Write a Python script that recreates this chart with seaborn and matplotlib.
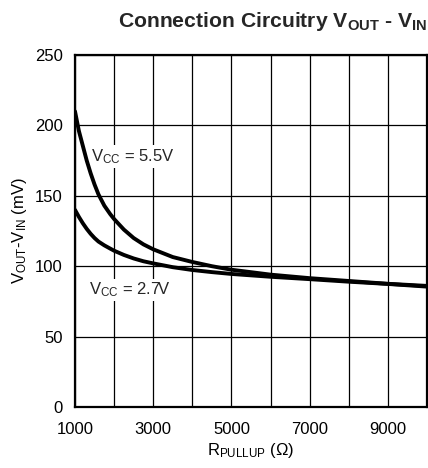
import matplotlib
matplotlib.use("Agg")
import matplotlib.pyplot as plt
import seaborn as sns
import pandas as pd

# ---- data ----
r_pullup = [1000, 1050, 1100, 1200, 1300, 1400, 1500, 1600, 1750, 1900, 2000,
            2250, 2500, 2750, 3000, 3500, 4000, 4500, 5000, 6000, 7000, 8000,
            9000, 10000]
vcc_55 = [210, 203, 196, 185.5, 175, 166, 158, 151, 143, 137, 133.5,
          126, 120, 115.5, 112, 106.5, 103, 100, 97.5, 94, 91.5, 89.5,
          87.5, 86]
vcc_27 = [140, 137.5, 135, 130.5, 126.5, 123, 120, 117.5, 114.8, 112.5, 111,
          108, 105.5, 103.5, 102, 99.3, 97.3, 95.8, 94.5, 92.5, 90.8, 89,
          87.4, 85.5]
series_names = ["5.5V", "2.7V"]
x_ticks = [1000, 2000, 3000, 4000, 5000, 6000, 7000, 8000, 9000, 10000]
x_tick_labels = ["1000", "", "3000", "", "5000", "", "7000", "", "9000", ""]
y_ticks = [0, 50, 100, 150, 200, 250]

df = pd.concat([
    pd.DataFrame({"R": r_pullup, "V": vcc_55, "Vcc": series_names[0]}),
    pd.DataFrame({"R": r_pullup, "V": vcc_27, "Vcc": series_names[1]}),
])

sns.set_theme(style="white")
plt.rcParams["font.family"] = ["Liberation Sans", "DejaVu Sans"]
plt.rcParams["mathtext.fontset"] = "custom"
plt.rcParams["mathtext.rm"] = "Liberation Sans"
plt.rcParams["mathtext.it"] = "Liberation Sans"
plt.rcParams["mathtext.bf"] = "Liberation Sans:bold"

fig = plt.figure(figsize=(4.28, 4.68), dpi=100)
ax = fig.add_axes([75 / 428, 61 / 468, 352 / 428, 352 / 468])

sns.lineplot(data=df, x="R", y="V", hue="Vcc", palette=["black", "black"],
             legend=False, ax=ax, linewidth=2.8, estimator=None, sort=False,
             zorder=3)

ax.set_xlim(1000, 10000)
ax.set_ylim(0, 250)
ax.set_xticks(x_ticks)
ax.set_xticklabels(x_tick_labels)
ax.set_yticks(y_ticks)
ax.grid(True, color="black", linewidth=0.9)
ax.set_axisbelow(True)
for s in ax.spines.values():
    s.set_color("black")
    s.set_linewidth(1.6)
ax.tick_params(axis="both", length=0, labelsize=12, colors="black")
ax.tick_params(axis="x", pad=11)
ax.tick_params(axis="y", pad=9)

ax.set_xlabel(r"R$_{\mathrm{PULLUP}}$ ($\Omega$)", fontsize=12, color="black", labelpad=3)
ax.set_ylabel(r"V$_{\mathrm{OUT}}$-V$_{\mathrm{IN}}$ (mV)", fontsize=12, color="black", labelpad=4)

box = dict(facecolor="white", edgecolor="none", pad=1.5)
ax.text(1420, 178, r"V$_{\mathrm{CC}}$ = 5.5V", fontsize=12, va="center", ha="left",
        bbox=box, zorder=2)
ax.text(1350, 83, r"V$_{\mathrm{CC}}$ = 2.7V", fontsize=12, va="center", ha="left",
        bbox=box, zorder=2)

fig.text(0.998, 0.953, r"Connection Circuitry V$_{\mathbf{OUT}}$ - V$_{\mathbf{IN}}$",
         ha="right", va="center", fontsize=15.2, fontweight="bold")

fig.savefig("out.png", dpi=100)
